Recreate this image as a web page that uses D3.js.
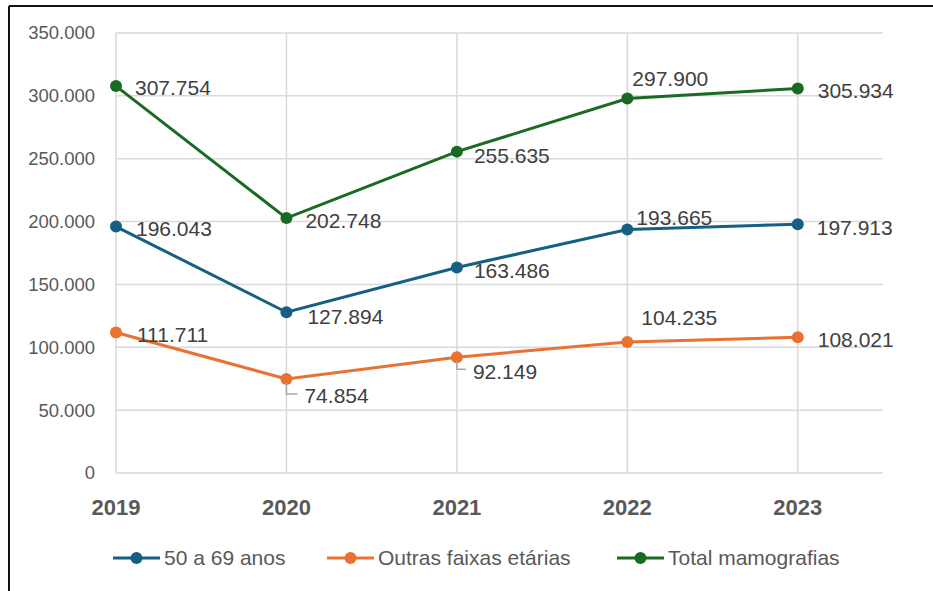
<!DOCTYPE html>
<html>
<head>
<meta charset="utf-8">
<script src="https://cdn.jsdelivr.net/npm/d3@7"></script>
<style>
  body { margin: 0; background: #fff; }
  svg { display: block; font-family: "Liberation Sans", Arial, sans-serif; }
</style>
</head>
<body>
<div id="chart"></div>
<script>
const years = ["2019", "2020", "2021", "2022", "2023"];
const yTicks = [0, 50000, 100000, 150000, 200000, 250000, 300000, 350000];
const seriesNames = ["50 a 69 anos", "Outras faixas etárias", "Total mamografias"];
const faixa50a69 = [196043, 127894, 163486, 193665, 197913];
const outrasFaixas = [111711, 74854, 92149, 104235, 108021];
const totalMamografias = [307754, 202748, 255635, 297900, 305934];

// label placement (dx, dy from point) per series, per year
const labelOffsets = [
    [[20, 2], [21, 4], [17, 3], [9, -12], [19, 3]],
    [[21, 2], [18, 17], [16, 14], [14, -24], [20, 2]],
    [[19, 2], [19, 3], [17, 4], [5, -20], [20, 2]]
];
const leaderLines = [false, true, true, false, false];

const colors = ["#156082", "#E97132", "#196B24"];
const seriesData = [faixa50a69, outrasFaixas, totalMamografias];

const W = 933, H = 591;
const fmt = v => d3.format(",")(v).replace(/,/g, ".");

const svg = d3.select("#chart").append("svg")
    .attr("width", W).attr("height", H);

// frame (left + top only, as in the picture)
svg.append("line").attr("x1", 9).attr("x2", 9).attr("y1", 6).attr("y2", H)
    .attr("stroke", "#111").attr("stroke-width", 2);
svg.append("line").attr("x1", 9).attr("x2", W).attr("y1", 6).attr("y2", 6)
    .attr("stroke", "#111").attr("stroke-width", 2);

const x = d3.scaleLinear().domain([0, 4.5]).range([116, 883]);
const y = d3.scaleLinear().domain([0, 350000]).range([473, 33]);

// grid
svg.append("g").selectAll("line").data(yTicks).join("line")
    .attr("x1", x(0)).attr("x2", x(4.5))
    .attr("y1", d => y(d)).attr("y2", d => y(d))
    .attr("stroke", "#d9d9d9").attr("stroke-width", 1.5);
svg.append("g").selectAll("line").data(years).join("line")
    .attr("x1", (d, i) => x(i)).attr("x2", (d, i) => x(i))
    .attr("y1", y(0)).attr("y2", y(350000))
    .attr("stroke", "#d9d9d9").attr("stroke-width", 1.5);

// y tick labels
svg.append("g").selectAll("text").data(yTicks).join("text")
    .attr("x", 95).attr("y", d => y(d))
    .attr("dy", "0.35em")
    .attr("text-anchor", "end")
    .attr("font-size", 18.5)
    .attr("fill", "#595959")
    .text(d => fmt(d));

// x labels
svg.append("g").selectAll("text").data(years).join("text")
    .attr("x", (d, i) => x(i)).attr("y", 507)
    .attr("dy", "0.35em")
    .attr("text-anchor", "middle")
    .attr("font-size", 22)
    .attr("font-weight", "bold")
    .attr("fill", "#595959")
    .text(d => d);

const line = d3.line()
    .x((d, i) => x(i))
    .y(d => y(d));

seriesData.forEach((vals, s) => {
    const g = svg.append("g");
    g.append("path")
        .attr("d", line(vals))
        .attr("fill", "none")
        .attr("stroke", colors[s])
        .attr("stroke-width", 3);
    g.selectAll("circle").data(vals).join("circle")
        .attr("cx", (d, i) => x(i))
        .attr("cy", d => y(d))
        .attr("r", 6)
        .attr("fill", colors[s]);
});

// data labels
seriesData.forEach((vals, s) => {
    const g = svg.append("g");
    vals.forEach((v, i) => {
        const [dx, dy] = labelOffsets[s][i];
        const px = x(i), py = y(v);
        if (s === 1 && leaderLines[i]) {
            g.append("path")
                .attr("d", `M${px},${py + 4}V${py + dy - 2}H${px + dx - 7}`)
                .attr("fill", "none")
                .attr("stroke", "#a6a6a6")
                .attr("stroke-width", 1.5);
        }
        g.append("text")
            .attr("x", px + dx).attr("y", py + dy)
            .attr("dy", "0.35em")
            .attr("font-size", 21)
            .attr("fill", "#404040")
            .text(fmt(v));
    });
});

// legend
const legendX = [113, 327, 617];
const legend = svg.append("g").attr("transform", "translate(0,558)");
seriesNames.forEach((name, s) => {
    const lx = legendX[s];
    legend.append("line")
        .attr("x1", lx).attr("x2", lx + 47)
        .attr("stroke", colors[s]).attr("stroke-width", 3);
    legend.append("circle")
        .attr("cx", lx + 23.5).attr("r", 6)
        .attr("fill", colors[s]);
    legend.append("text")
        .attr("x", lx + 51).attr("dy", "0.35em")
        .attr("font-size", 21)
        .attr("fill", "#595959")
        .text(name);
});
</script>
</body>
</html>
